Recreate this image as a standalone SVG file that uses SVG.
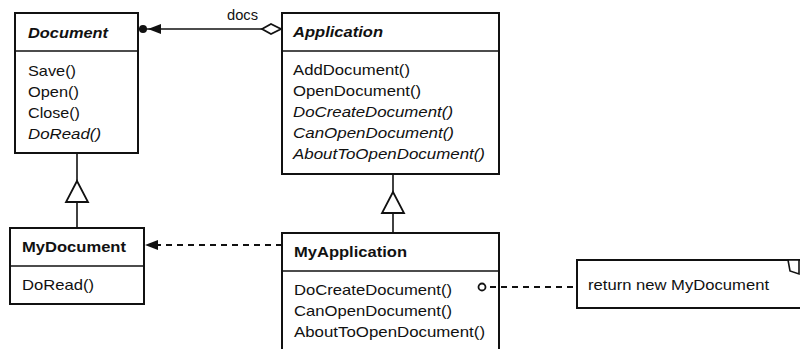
<svg xmlns="http://www.w3.org/2000/svg" width="800" height="349" viewBox="0 0 800 349">
<defs>
<style>
.box{fill:#fff;stroke:#111;stroke-width:2}
.ln{stroke:#111;stroke-width:1.6;fill:none}
.dash{stroke:#111;stroke-width:1.8;fill:none;stroke-dasharray:6 5}
text{font-family:"Liberation Sans",Arial,sans-serif;font-size:14.5px;fill:#111}
.h{font-weight:bold}
.i{font-style:italic}
</style>
</defs>
<rect width="800" height="349" fill="#fff"/>

<g id="Document">
<rect class="box" x="15" y="13" width="123" height="140"/>
<line class="ln" x1="15" y1="51" x2="138" y2="51" stroke-width="2"/>
<text class="h i" x="28" y="38" textLength="80" lengthAdjust="spacingAndGlyphs">Document</text>
<text x="28" y="76" textLength="48" lengthAdjust="spacingAndGlyphs">Save()</text>
<text x="28" y="97" textLength="51" lengthAdjust="spacingAndGlyphs">Open()</text>
<text x="28" y="118" textLength="52" lengthAdjust="spacingAndGlyphs">Close()</text>
<text class="i" x="28" y="139" textLength="73" lengthAdjust="spacingAndGlyphs">DoRead()</text>
</g>

<g id="Application">
<rect class="box" x="282" y="13" width="217" height="161"/>
<line class="ln" x1="282" y1="51" x2="499" y2="51" stroke-width="2"/>
<text class="h i" x="293" y="37" textLength="90" lengthAdjust="spacingAndGlyphs">Application</text>
<text x="293" y="75" textLength="117" lengthAdjust="spacingAndGlyphs">AddDocument()</text>
<text x="293" y="96" textLength="128" lengthAdjust="spacingAndGlyphs">OpenDocument()</text>
<text class="i" x="293" y="117" textLength="160" lengthAdjust="spacingAndGlyphs">DoCreateDocument()</text>
<text class="i" x="293" y="138" textLength="161" lengthAdjust="spacingAndGlyphs">CanOpenDocument()</text>
<text class="i" x="293" y="159" textLength="192" lengthAdjust="spacingAndGlyphs">AboutToOpenDocument()</text>
</g>

<g id="MyDocument">
<rect class="box" x="10" y="228" width="134" height="76"/>
<line class="ln" x1="10" y1="266" x2="144" y2="266" stroke-width="2"/>
<text class="h" x="22" y="252" textLength="104" lengthAdjust="spacingAndGlyphs">MyDocument</text>
<text x="22" y="290" textLength="72" lengthAdjust="spacingAndGlyphs">DoRead()</text>
</g>

<g id="MyApplication">
<path class="box" d="M282,352 L282,233 L499,233 L499,352"/>
<line class="ln" x1="282" y1="271" x2="499" y2="271" stroke-width="2"/>
<text class="h" x="294" y="257" textLength="113" lengthAdjust="spacingAndGlyphs">MyApplication</text>
<text x="294" y="295" textLength="158" lengthAdjust="spacingAndGlyphs">DoCreateDocument()</text>
<text x="294" y="316" textLength="158" lengthAdjust="spacingAndGlyphs">CanOpenDocument()</text>
<text x="294" y="337" textLength="191" lengthAdjust="spacingAndGlyphs">AboutToOpenDocument()</text>
</g>

<g id="Note">
<path class="box" d="M803,260 L577,260 L577,308 L803,308"/>
<path d="M788,260 L799,260 L799,274 L790,271 Z" fill="#fff" stroke="#111" stroke-width="1.6"/>
<text x="588" y="290" textLength="181" lengthAdjust="spacingAndGlyphs">return new MyDocument</text>
</g>

<g id="connectors">
<line class="ln" x1="139" y1="29" x2="262" y2="29"/>
<circle cx="143" cy="29" r="4" fill="#111"/>
<path d="M148,29 L161,24 L161,34 Z" fill="#111"/>
<path d="M262,29 L271,24 L281,29 L271,34 Z" fill="#fff" stroke="#111" stroke-width="1.8"/>
<text x="227" y="20" textLength="31" lengthAdjust="spacingAndGlyphs">docs</text>
<line class="ln" x1="77" y1="153" x2="77" y2="181"/>
<line class="ln" x1="77" y1="202" x2="77" y2="228"/>
<path d="M77,181 L66,202 L88,202 Z" fill="#fff" stroke="#111" stroke-width="1.8"/>
<line class="ln" x1="393" y1="174" x2="393" y2="192"/>
<line class="ln" x1="393" y1="213" x2="393" y2="233"/>
<path d="M393,192 L382,213 L404,213 Z" fill="#fff" stroke="#111" stroke-width="1.8"/>
<line class="dash" x1="282" y1="245" x2="158" y2="245"/>
<path d="M145,245 L158,240 L158,250 Z" fill="#111"/>
<circle cx="482" cy="287" r="3.5" fill="#fff" stroke="#111" stroke-width="1.8"/>
<line class="dash" x1="490" y1="287" x2="577" y2="287"/>
</g>
</svg>
